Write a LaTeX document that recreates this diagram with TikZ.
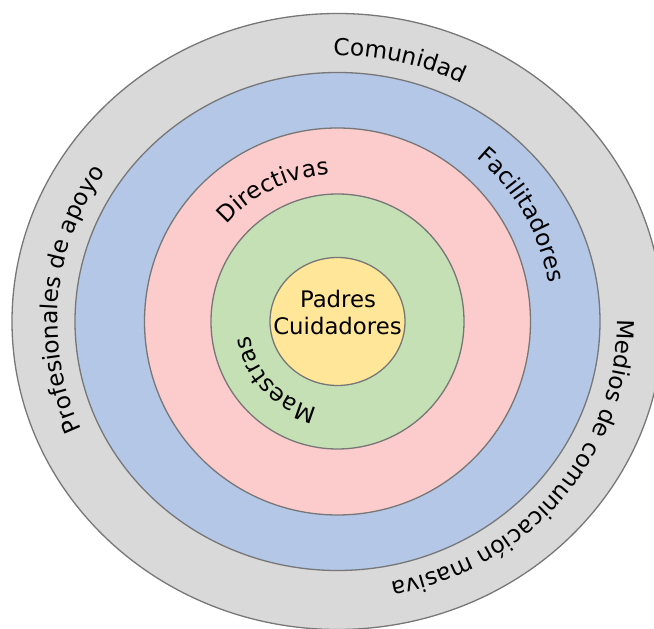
\documentclass[tikz,border=0pt]{standalone}
\usepackage{fontspec}
\setmainfont{DejaVu Sans}
\usetikzlibrary{decorations.text}
\definecolor{cgray}{HTML}{D9D9D9}
\definecolor{cblue}{HTML}{B4C7E7}
\definecolor{cpink}{HTML}{FCCBCB}
\definecolor{cgreen}{HTML}{C5E0B4}
\definecolor{cyellow}{HTML}{FFE699}
\definecolor{cline}{HTML}{777777}
\newcommand{\labfont}{\fontsize{23.3}{27}\selectfont}
\newcommand{\cenfont}{\fontsize{22.8}{27}\selectfont}
\tikzset{
  ring/.style={draw=cline, line width=1.3pt},
  arclabel/.style={decorate, decoration={text along path, text align=center, text={|\labfont|#1}}}
}
\begin{document}
\begin{tikzpicture}[x=1pt,y=1pt]
\useasboundingbox (0,0) rectangle (654,629);
\coordinate (c) at (337.5,307.5);
% rings
\draw[ring, fill=cgray]   (c) ellipse [x radius=325.5, y radius=308];
\draw[ring, fill=cblue]   (c) ellipse [x radius=262.5, y radius=249];
\draw[ring, fill=cpink]   (c) ellipse [x radius=193, y radius=193.5];
\draw[ring, fill=cgreen]  (c) ellipse [x radius=126.5, y radius=127.5];
\draw[ring, fill=cyellow] (c) ellipse [x radius=67.5, y radius=64];
% labels along arcs (clockwise)
\path[arclabel=Comunidad] (c) ++(112:280 and 266) arc[start angle=112, end angle=42, x radius=280, y radius=266];
\path[arclabel=Profesionales de apoyo] (c) ++(235:280 and 266) arc[start angle=235, end angle=115, x radius=280, y radius=266];
\path[arclabel=Medios de comunicación masiva] (c) ++(15:280 and 266) arc[start angle=15, end angle=-93, x radius=280, y radius=266];
\path[arclabel=Facilitadores] (c) ++(65:215) arc[start angle=65, end angle=-5, radius=215];
\path[arclabel=Directivas] (c) ++(156:147) arc[start angle=156, end angle=76, radius=147];
\path[arclabel=Maestras] (c) ++(263:89) arc[start angle=263, end angle=183, radius=89];
% centre
\node[font=\cenfont, anchor=base, inner sep=0pt] (padres) at (338,321) {Padres};
\node[font=\cenfont, anchor=base, inner sep=0pt] (cuid) at (337.5,294) {Cuidadores};
\end{tikzpicture}
\end{document}
